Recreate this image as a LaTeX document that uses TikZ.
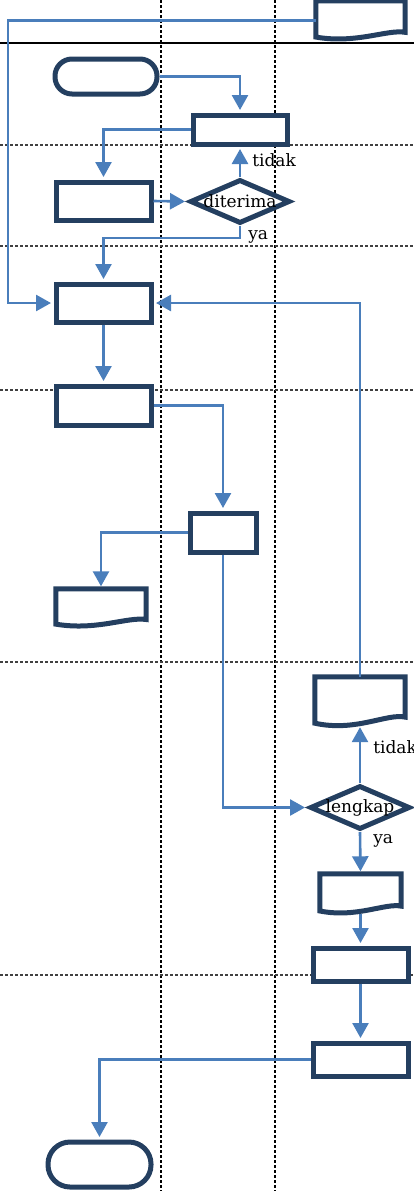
\documentclass[tikz,border=0pt]{standalone}
\usepackage{fontspec}
\setmainfont{DejaVu Serif}
\usetikzlibrary{shapes.geometric, arrows.meta, calc}
\definecolor{shapeborder}{RGB}{36, 63, 96}
\definecolor{flowblue}{RGB}{74, 126, 187}

% outline of a document symbol drawn on an empty node
\newcommand{\docoutline}[1]{%
  \draw[draw=shapeborder, line width=5pt, fill=white]
    let \p1=(#1.north west), \p2=(#1.south east) in
    (\p1) -- (\x2,\y1) -- (\x2,{\y1+0.8*(\y2-\y1)})
    .. controls ({\x1+0.8*(\x2-\x1)},{\y1+0.72*(\y2-\y1)})
            and ({\x1+0.45*(\x2-\x1)},{\y1+1.1*(\y2-\y1)})
    .. (\x1,{\y1+0.92*(\y2-\y1)}) -- cycle;}

\begin{document}
\begin{tikzpicture}[x=1pt, y=-1pt,
  process/.style={rectangle, draw=shapeborder, line width=5pt, fill=white, inner sep=0pt},
  decision/.style={diamond, draw=shapeborder, line width=5pt, fill=white, inner sep=0pt,
                   minimum width=100pt, minimum height=44pt, font=\fontsize{17}{20}\selectfont},
  docnode/.style={rectangle, inner sep=0pt},
  flow/.style={draw=flowblue, line width=2.6pt, -{Triangle[length=15pt, width=16pt]}, shorten >=2.5pt},
  tag/.style={font=\fontsize{17}{20}\selectfont, inner sep=2pt},
  lane/.style={line width=1.2pt, dash pattern=on 3pt off 2pt}]

\useasboundingbox (0,0) rectangle (414,1191);

% Lanes
\draw[lane] (161,0) -- (161,1191);
\draw[lane] (275,0) -- (275,1191);
\draw[line width=2pt] (0,43) -- (414,43);
\foreach \y in {145,246,390,662,975}
  \draw[lane, black!75] (0,\y) -- (414,\y);

% Incoming form
\node[docnode, minimum width=89pt, minimum height=39pt] (form) at (360.5,20.5) {};
\docoutline{form}

% Request and check
\node[process, minimum width=102pt, minimum height=35pt, rounded corners=17pt] (start) at (106,76.5) {};
\node[process, minimum width=94pt, minimum height=29pt] (reqbox) at (240,129.5) {};
\node[process, minimum width=95pt, minimum height=38pt] (inbox) at (103.5,201) {};
\node[decision] (check) at (240,201.5) {\makebox[0pt]{diterima}};

% Recording
\node[process, minimum width=95pt, minimum height=38pt] (recbox) at (103.5,303) {};
\node[process, minimum width=95pt, minimum height=39pt] (sendbox) at (103.5,405.5) {};
\node[process, minimum width=66pt, minimum height=39pt] (verbox) at (223,532.5) {};
\node[docnode, minimum width=90pt, minimum height=38pt] (archive) at (101,608) {};
\docoutline{archive}

% Completeness check
\node[docnode, minimum width=90pt, minimum height=50pt] (revdoc) at (360,702) {};
\docoutline{revdoc}
\node[decision] (complete) at (360,807.5) {\makebox[0pt]{lengkap}};
\node[docnode, minimum width=81pt, minimum height=40pt] (outdoc) at (360.5,894) {};
\docoutline{outdoc}
\node[process, minimum width=95pt, minimum height=33pt] (procbox) at (360.5,964.5) {};
\node[process, minimum width=95pt, minimum height=33pt] (finbox) at (360.5,1059.5) {};
\node[process, minimum width=103pt, minimum height=45pt, rounded corners=22pt] (stop) at (99.5,1164.5) {};

% Arrows
\coordinate (back) at (8,20.5);
\draw[flow] (form.west) -- (back) |- (recbox.west);
\draw[flow] (start.east) -| (reqbox.north);
\draw[flow] (reqbox.west) -| (inbox.north);
\draw[flow] (inbox.east) -- (check.west);
\draw[flow] (check.north) -- (reqbox.south)
      node[tag, pos=0.55, right, xshift=9pt] {tidak};
\draw[flow] (check.south) node[tag, anchor=base west, xshift=5pt, yshift=-13pt] {ya}
      -- ++(0,12) -| (recbox.north);
\draw[flow] (recbox.south) -- (sendbox.north);
\draw[flow] (sendbox.east) -| (verbox.north);
\draw[flow] (verbox.west) -| (archive.north);
\draw[flow] (verbox.south) |- (complete.west);
\draw[flow, shorten >=0pt] (complete.north) -- (revdoc.south)
      node[tag, pos=0.65, right, xshift=10pt] {tidak};
\draw[flow] (revdoc.north) |- (recbox.east);
\draw[flow] (complete.south) node[tag, anchor=base west, xshift=10pt, yshift=-11pt] {ya}
      -- (outdoc.north);
\draw[flow] (outdoc.south) -- (procbox.north);
\draw[flow] (procbox.south) -- (finbox.north);
\draw[flow] (finbox.west) -| (stop.north);

\end{tikzpicture}
\end{document}
